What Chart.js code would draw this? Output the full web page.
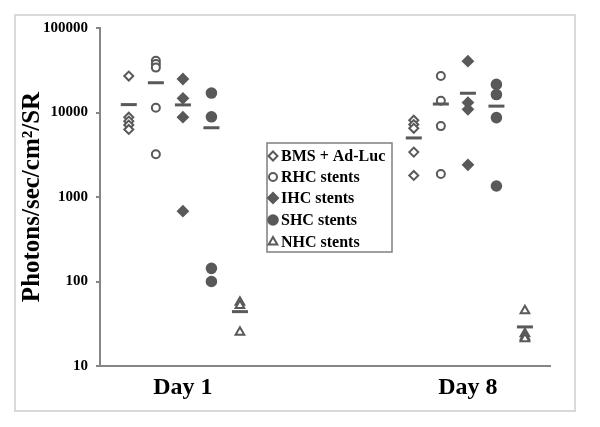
<!DOCTYPE html>
<html lang="en">
<head>
    <meta charset="UTF-8" />
    <title>Photon flux by stent type</title>
    <script src="https://cdn.jsdelivr.net/npm/chart.js"></script>
    <style>
        html, body { margin: 0; padding: 0; background: #fff; }
        #wrap { width: 600px; height: 427px; }
    </style>
</head>
<body>
<div id="wrap"><canvas id="grafico" width="600" height="427"></canvas></div>

<script>
    // === data ===
    const dayLabels = ["Day 1", "Day 8"];
    const seriesNames = ["BMS + Ad-Luc", "RHC stents", "IHC stents", "SHC stents", "NHC stents"];
    const yTicks = [10, 100, 1000, 10000, 100000];

    const bmsDay1 = [27000, 8800, 7900, 7100, 6300];
    const bmsDay8 = [8100, 7200, 6500, 3400, 1800];
    const rhcDay1 = [41000, 37500, 34000, 11400, 3200];
    const rhcDay8 = [27000, 13800, 6900, 1870];
    const ihcDay1 = [24900, 14700, 8800, 680];
    const ihcDay8 = [40500, 13100, 10900, 2400];
    const shcDay1 = [17000, 8900, 143, 100];
    const shcDay8 = [21500, 16300, 8700, 1350];
    const nhcDay1 = [57, 52, 25];
    const nhcDay8 = [45, 24, 22, 21];

    const bmsMean = [12400, 5000];
    const rhcMean = [22500, 12600];
    const ihcMean = [12300, 16900];
    const shcMean = [6600, 11900];
    const nhcMean = [44, 29];

    // === style ===
    const markColor = "#595959";
    const axisColor = "#868686";
    const serif = "'Liberation Serif', 'Times New Roman', serif";
    const offsets = [-0.19, -0.095, 0, 0.1, 0.2];

    const styles = [
        { pointStyle: "rectRot", radius: 4.5, filled: false },
        { pointStyle: "circle", radius: 4, filled: false },
        { pointStyle: "rectRot", radius: 5, filled: true },
        { pointStyle: "circle", radius: 4.8, filled: true },
        { pointStyle: "triangle", radius: 5, filled: false }
    ];

    const porDia = [
        [bmsDay1, bmsDay8],
        [rhcDay1, rhcDay8],
        [ihcDay1, ihcDay8],
        [shcDay1, shcDay8],
        [nhcDay1, nhcDay8]
    ];
    const medias = [bmsMean, rhcMean, ihcMean, shcMean, nhcMean];

    const datasets = [];

    // mean dashes
    medias.forEach((m, i) => {
        datasets.push({
            label: "mean " + seriesNames[i],
            data: m.map((v, d) => ({ x: d + 1 + offsets[i], y: v })),
            pointStyle: "line",
            radius: 8,
            borderWidth: 3,
            borderColor: markColor,
            backgroundColor: markColor,
            showLine: false
        });
    });

    // individual points
    porDia.forEach((dias, i) => {
        const pts = [];
        dias.forEach((vals, d) => {
            vals.forEach(v => pts.push({ x: d + 1 + offsets[i], y: v }));
        });
        datasets.push({
            label: seriesNames[i],
            data: pts,
            pointStyle: styles[i].pointStyle,
            radius: styles[i].radius,
            borderWidth: 2,
            borderColor: markColor,
            backgroundColor: styles[i].filled ? markColor : "#ffffff",
            showLine: false
        });
    });

    // outer frame
    const marco = {
        id: "marco",
        beforeDraw(chart) {
            const ctx = chart.ctx;
            ctx.save();
            ctx.strokeStyle = "#d9d9d9";
            ctx.lineWidth = 2;
            ctx.strokeRect(15, 15, 560, 396);
            ctx.restore();
        }
    };

    // legend box in the middle of the plot
    const leyenda = {
        id: "leyenda",
        afterDraw(chart) {
            const ctx = chart.ctx;
            const rows = [156, 177, 198, 220, 242];
            ctx.save();
            ctx.fillStyle = "#ffffff";
            ctx.fillRect(267, 143, 125, 109);
            ctx.strokeStyle = "#7f7f7f";
            ctx.lineWidth = 1.5;
            ctx.strokeRect(267, 143, 125, 109);
            seriesNames.forEach((name, i) => {
                ctx.strokeStyle = markColor;
                ctx.fillStyle = styles[i].filled ? markColor : "#ffffff";
                ctx.lineWidth = 2;
                Chart.helpers.drawPoint(ctx, {
                    pointStyle: styles[i].pointStyle,
                    radius: styles[i].radius,
                    rotation: 0,
                    borderWidth: 2
                }, 273, rows[i]);
                ctx.fillStyle = "#000";
                ctx.font = "bold 16px " + serif;
                ctx.textBaseline = "middle";
                ctx.textAlign = "left";
                ctx.fillText(name, 281, rows[i] + 1);
            });
            ctx.restore();
        }
    };

    new Chart(document.getElementById("grafico"), {
        type: "scatter",
        data: { datasets: datasets },
        options: {
            responsive: false,
            animation: false,
            events: [],
            layout: { padding: { top: 28, right: 50, bottom: 0, left: 0 } },
            plugins: { legend: { display: false }, tooltip: { enabled: false } },
            scales: {
                x: {
                    type: "linear",
                    min: 0.709,
                    max: 2.288,
                    afterBuildTicks: s => { s.ticks = [1, 2].map(v => ({ value: v })); },
                    afterFit: s => { s.height = 61; },
                    ticks: {
                        callback: v => dayLabels[v - 1],
                        font: { family: serif, size: 24, weight: "bold" },
                        color: "#000",
                        padding: 7,
                        maxRotation: 0
                    },
                    grid: { display: true, drawOnChartArea: false, drawTicks: false, color: axisColor },
                    border: { display: true, color: axisColor, width: 2 }
                },
                y: {
                    type: "logarithmic",
                    min: 10,
                    max: 100000,
                    afterBuildTicks: s => { s.ticks = yTicks.map(v => ({ value: v })); },
                    afterFit: s => { s.width = 100; },
                    ticks: {
                        callback: v => String(v),
                        font: { family: serif, size: 15, weight: "bold" },
                        color: "#000",
                        padding: 8
                    },
                    grid: { display: true, drawOnChartArea: false, drawTicks: true, tickLength: 4, color: axisColor, lineWidth: 2 },
                    border: { display: true, color: axisColor, width: 2 },
                    title: {
                        display: true,
                        text: "Photons/sec/cm\u00B2/SR",
                        font: { family: serif, size: 25, weight: "bold" },
                        color: "#000",
                        padding: { top: 18, bottom: 0 }
                    }
                }
            }
        },
        plugins: [marco, leyenda]
    });
</script>
</body>
</html>
